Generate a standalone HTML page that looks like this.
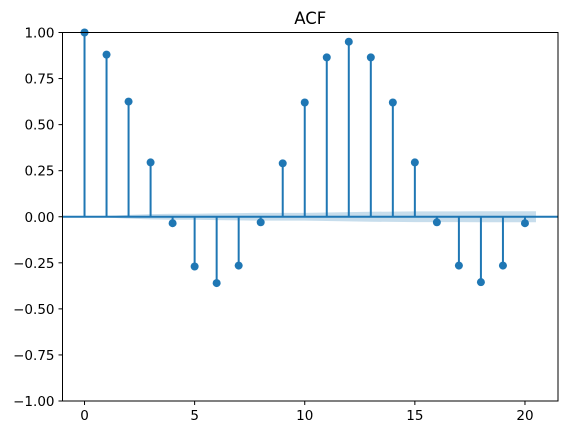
<!DOCTYPE html>
<html><head><meta charset="utf-8"><style>
body{margin:0;background:#fff;}
svg text{font-family:"DejaVu Sans","Liberation Sans",sans-serif;fill:#000;}
</style></head><body>
<svg id="chart" width="568" height="435" xmlns="http://www.w3.org/2000/svg"></svg>
<script>
const lags=[0,1,2,3,4,5,6,7,8,9,10,11,12,13,14,15,16,17,18,19,20];
const acfValues=[1,0.88,0.625,0.295,-0.035,-0.27,-0.36,-0.265,-0.03,0.29,0.62,0.865,0.95,0.865,0.62,0.295,-0.03,-0.265,-0.355,-0.265,-0.035];
const confHalf=[0,0.004,0.010,0.014,0.016,0.016,0.018,0.020,0.021,0.021,0.021,0.023,0.025,0.027,0.028,0.029,0.029,0.029,0.030,0.030,0.030];
const xTicks=[0,5,10,15,20];
const yTicks=[1,0.75,0.5,0.25,0,-0.25,-0.5,-0.75,-1];
const yTickLabels=["1.00","0.75","0.50","0.25","0.00","\u22120.25","\u22120.50","\u22120.75","\u22121.00"];
const L=62.5,R=558,T=32.5,B=401;
const xmin=-1,xmax=21.5,ymin=-1,ymax=1;
const X=v=>L+(v-xmin)/(xmax-xmin)*(R-L);
const Y=v=>B-(v-ymin)/(ymax-ymin)*(B-T);
const svg=document.getElementById('chart');
const NS='http://www.w3.org/2000/svg';
function mk(tag,attrs,parent){const e=document.createElementNS(NS,tag);for(const k in attrs)e.setAttribute(k,attrs[k]);(parent||svg).appendChild(e);return e;}
const C='#1f77b4';
// confidence band
let up=[],dn=[];
lags.forEach((l,i)=>{const x=(i==0?0.5:l);up.push(X(x)+','+Y(confHalf[i]));dn.unshift(X(x)+','+Y(-confHalf[i]));});
up.push(X(20.5)+','+Y(confHalf[20]));dn.unshift(X(20.5)+','+Y(-confHalf[20]));
const band=mk('polygon',{points:up.concat(dn).join(' '),fill:C,'fill-opacity':0.25});


const zl=mk('line',{x1:L,x2:R,y1:Y(0),y2:Y(0),stroke:C,'stroke-width':2});


lags.forEach((l,i)=>{
  const s=mk('line',{x1:X(l),x2:X(l),y1:Y(0),y2:Y(acfValues[i]),stroke:C,'stroke-width':2});
  
  
  const m=mk('circle',{cx:X(l),cy:Y(acfValues[i]),r:4,fill:C});
  
  
});
const frame=mk('rect',{x:L,y:T,width:R-L,height:B-T,fill:'none',stroke:'#000','stroke-width':1});


xTicks.forEach(t=>{
  const tk=mk('line',{x1:X(t),x2:X(t),y1:B,y2:B+4,stroke:'#000','stroke-width':1});
  
  
  const tx=mk('text',{x:X(t),y:B+19,'text-anchor':'middle','font-size':13.5});
  tx.textContent=t;
  
  
});
yTicks.forEach((t,i)=>{
  const tk=mk('line',{x1:L-4,x2:L,y1:Y(t),y2:Y(t),stroke:'#000','stroke-width':1});
  
  
  const tx=mk('text',{x:L-8,y:Y(t)+5,'text-anchor':'end','font-size':13.5});
  tx.textContent=yTickLabels[i];
  
  
});
const title=mk('text',{x:(L+R)/2,y:24,'text-anchor':'middle','font-size':16.5});
title.textContent='ACF';


</script>
</body></html>
